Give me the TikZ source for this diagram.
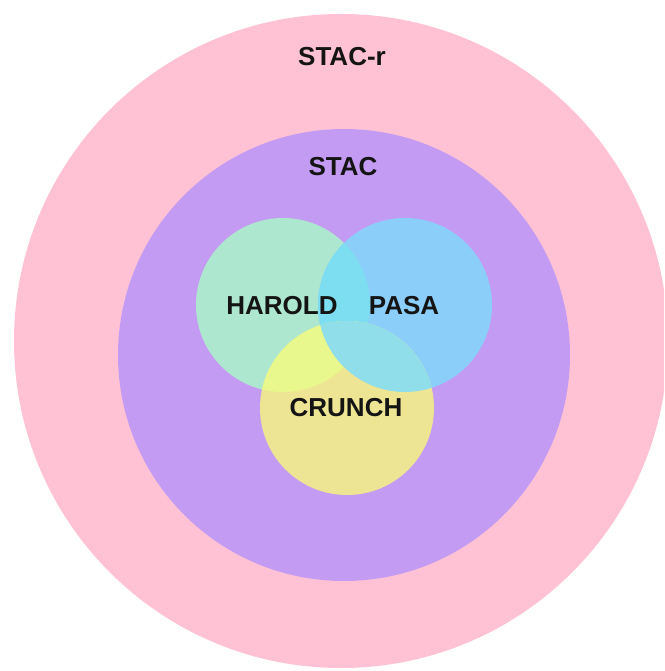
\documentclass[tikz,border=0pt]{standalone}
\usepackage{fontspec}
\setmainfont{Liberation Sans}

\definecolor{ringpink}{HTML}{FFC1D4}
\definecolor{ringpurple}{HTML}{C49BF2}
\definecolor{setgreen}{HTML}{AEE7CF}
\definecolor{setblue}{HTML}{8BCEFA}
\definecolor{setyellow}{HTML}{EEE594}
\definecolor{greenblue}{HTML}{7DDDF1}
\definecolor{greenyellow}{HTML}{E9F88D}
\definecolor{blueyellow}{HTML}{8FDEEA}

\tikzset{
  setname/.style={font=\bfseries\fontsize{26}{30}\selectfont, text=black!92, inner sep=0pt}
}

\begin{document}
\begin{tikzpicture}[x=1pt, y=-1pt]
    \clip (0,0) rectangle (664,671);
    \fill[white] (0,0) rectangle (664,671);

    \coordinate (outer) at (341,341);
    \coordinate (inner) at (344,355);
    \coordinate (harold) at (283,305);
    \coordinate (pasa) at (405,305);
    \coordinate (crunch) at (347,408);

    % the two rings
    \fill[ringpink] (outer) circle (327);
    \fill[ringpurple] (inner) circle (226);

    % the three sets
    \fill[setgreen] (harold) circle (87);
    \fill[setblue] (pasa) circle (87);
    \fill[setyellow] (crunch) circle (87);

    % overlaps
    \begin{scope}
        \clip (harold) circle (87);
        \fill[greenblue] (pasa) circle (87);
        \fill[greenyellow] (crunch) circle (87);
    \end{scope}
    \begin{scope}
        \clip (pasa) circle (87);
        \fill[blueyellow] (crunch) circle (87);
    \end{scope}

    \node[setname] (stacr) at (342,57) {STAC-r};
    \node[setname] (stac) at (343,167) {STAC};
    \node[setname] (haroldname) at (282,306) {HAROLD};
    \node[setname] (pasaname) at (404,306) {PASA};
    \node[setname] (crunchname) at (346,408) {CRUNCH};
\end{tikzpicture}
\end{document}
